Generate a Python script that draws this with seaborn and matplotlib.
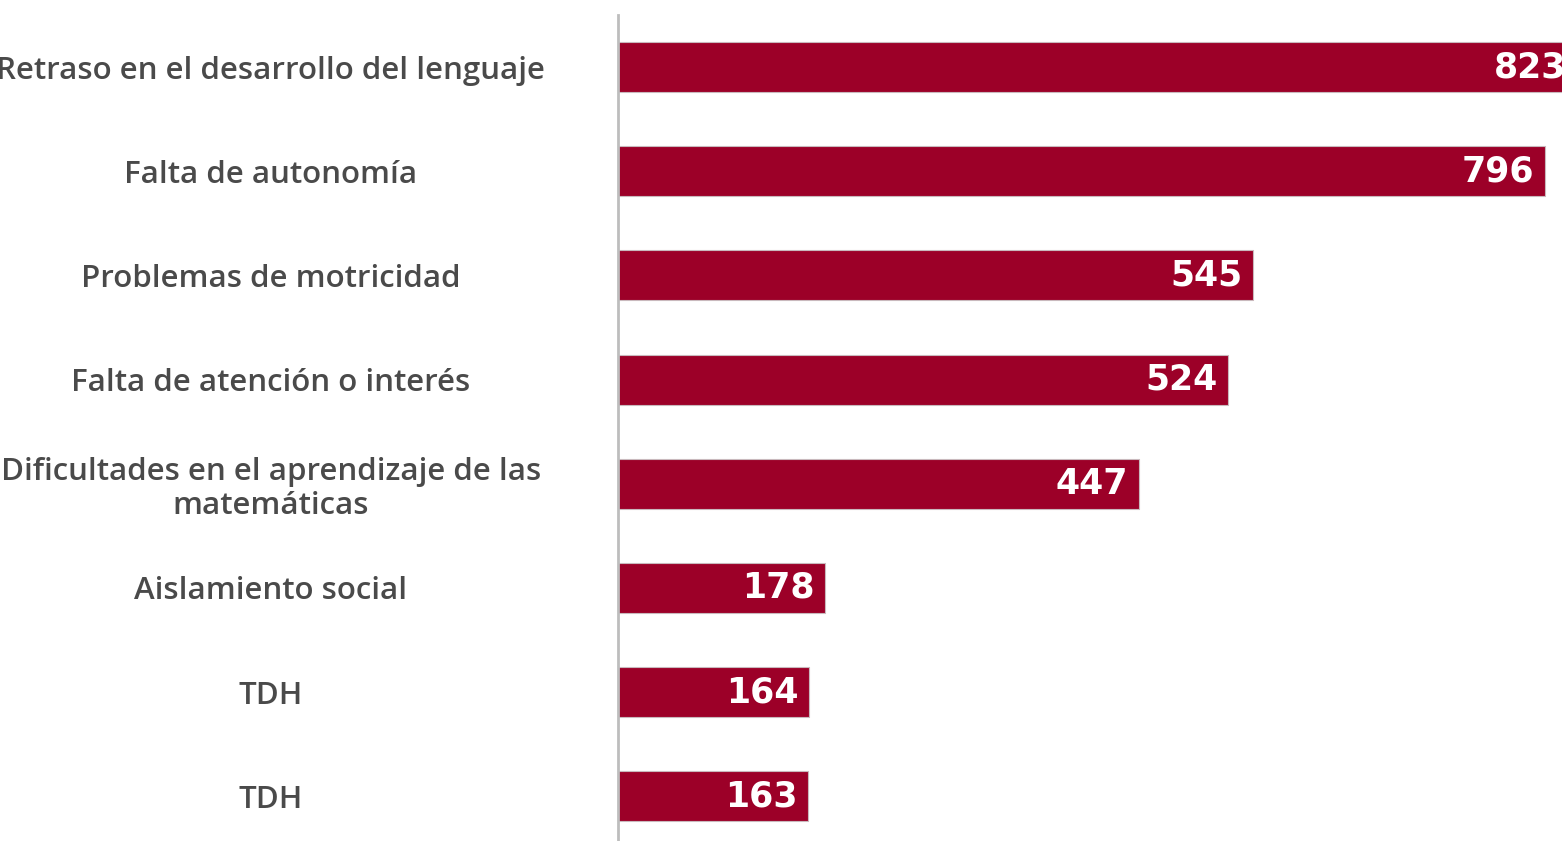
import seaborn as sns
import matplotlib.pyplot as plt
import pandas as pd

# categories and counts
categories = [
    "Retraso en el desarrollo del lenguaje",
    "Falta de autonomía",
    "Problemas de motricidad",
    "Falta de atención o interés",
    "Dificultades en el aprendizaje de las\nmatemáticas",
    "Aislamiento social",
    "TDH",
    "TDH",
]
counts = [823, 796, 545, 524, 447, 178, 164, 163]
value_labels = ["823", "796", "545", "524", "447", "178", "164", "163"]

# two rows share the label "TDH", so bars are keyed by row number
df = pd.DataFrame({"fila": [str(i) for i in range(len(counts))], "casos": counts})

sns.set_theme(style="white")
plt.rcParams["font.family"] = ["Open Sans", "DejaVu Sans"]

fig = plt.figure(figsize=(15.62, 8.41), dpi=100)
ax = fig.add_axes([618 / 1562, 0.0, 1 - 618 / 1562, (841 - 15) / 841])

sns.barplot(data=df, x="casos", y="fila", color="#9c0028",
            width=0.48, saturation=1, edgecolor="#c9b9bd", linewidth=0.8, ax=ax)

ax.set_xlim(0, 810.6)
ax.set_ylim(7.43, -0.5)
ax.set_xlabel("")
ax.set_ylabel("")
ax.set_xticks([])
ax.set_yticks(range(len(categories)), categories)

for s in ["top", "right", "bottom"]:
    ax.spines[s].set_visible(False)
ax.spines["left"].set_color("#bdbdbd")
ax.spines["left"].set_linewidth(2)

ax.tick_params(axis="y", length=0, pad=250)
for lab in ax.get_yticklabels():
    lab.set_horizontalalignment("center")
    lab.set_fontsize(22.5)
    lab.set_fontweight("semibold")
    lab.set_color("#4a4a4a")
    lab.set_multialignment("center")
    lab.set_linespacing(1.15)

for i, (v, txt) in enumerate(zip(counts, value_labels)):
    ax.text(v - 9, i, txt, ha="right", va="center", color="white",
            fontsize=25, fontweight="bold", family=["DejaVu Sans"],
            clip_on=True)

fig.savefig("out.png", dpi=100)
